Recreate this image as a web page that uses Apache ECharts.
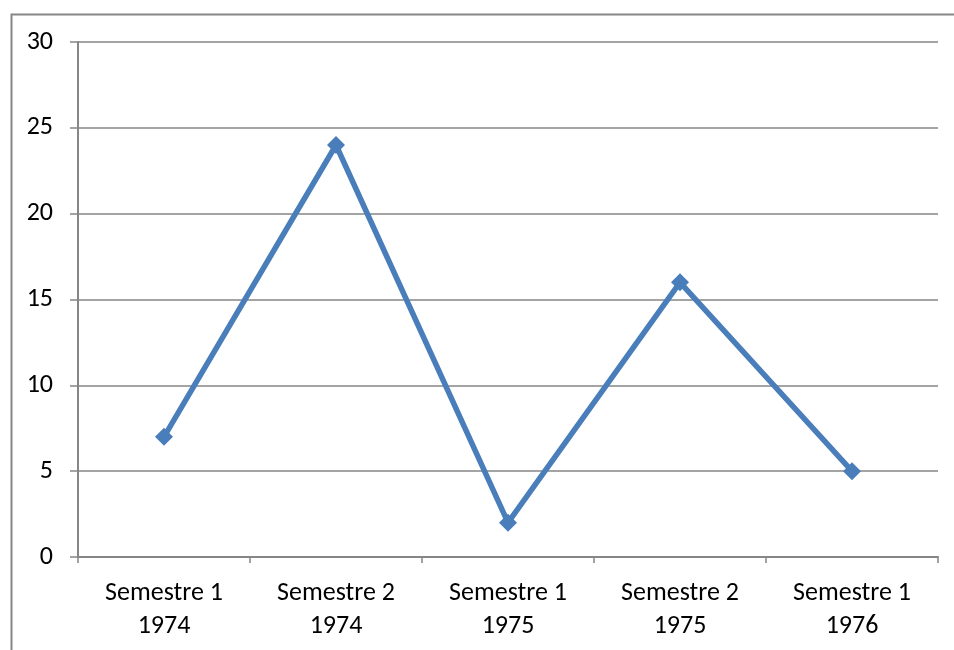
<!DOCTYPE html>
<html>
<head>
<meta charset="utf-8">
<script src="https://cdn.jsdelivr.net/npm/echarts@6/dist/echarts.min.js"></script>
<style>
  html, body { margin: 0; padding: 0; background: #fff; }
  #chart { width: 954px; height: 650px; }
</style>
</head>
<body>
<div id="chart"></div>
<script>
// categories and values
const categories = ['Semestre 1\n1974', 'Semestre 2\n1974', 'Semestre 1\n1975', 'Semestre 2\n1975', 'Semestre 1\n1976']
const values = [7, 24, 2, 16, 5]

const chart = echarts.init(document.getElementById('chart'))

const font = "Carlito, 'Open Sans', 'Noto Sans', sans-serif"

chart.setOption({
  animation: false,
  backgroundColor: '#fff',
  graphic: [{
    type: 'rect',
    left: 9,
    top: 12,
    shape: { width: 1000, height: 700 },
    style: { fill: 'none', stroke: '#868686', lineWidth: 2 },
    silent: true
  }],
  grid: { left: 78, right: 16, top: 42, bottom: 93, containLabel: false },
  xAxis: {
    type: 'category',
    data: categories,
    boundaryGap: true,
    axisLine: { lineStyle: { color: '#868686', width: 2 } },
    axisTick: { show: true, length: 6, alignWithLabel: false, lineStyle: { color: '#868686', width: 1.5 } },
    axisLabel: { color: '#000', fontSize: 26, fontFamily: font, lineHeight: 33, margin: 20 }
  },
  yAxis: {
    type: 'value',
    min: 0,
    max: 30,
    interval: 5,
    axisLine: { show: true, lineStyle: { color: '#868686', width: 2 } },
    axisTick: { show: true, length: 8, lineStyle: { color: '#868686', width: 1.5 } },
    axisLabel: { color: '#000', fontSize: 26, fontFamily: font, margin: 25 },
    splitLine: { lineStyle: { color: '#868686', width: 1.5 } }
  },
  series: [{
    type: 'line',
    data: values,
    symbol: 'diamond',
    symbolSize: 18,
    lineStyle: { color: '#4a7ebb', width: 5.5 },
    itemStyle: { color: '#4a7ebb' }
  }]
})
</script>
</body>
</html>
